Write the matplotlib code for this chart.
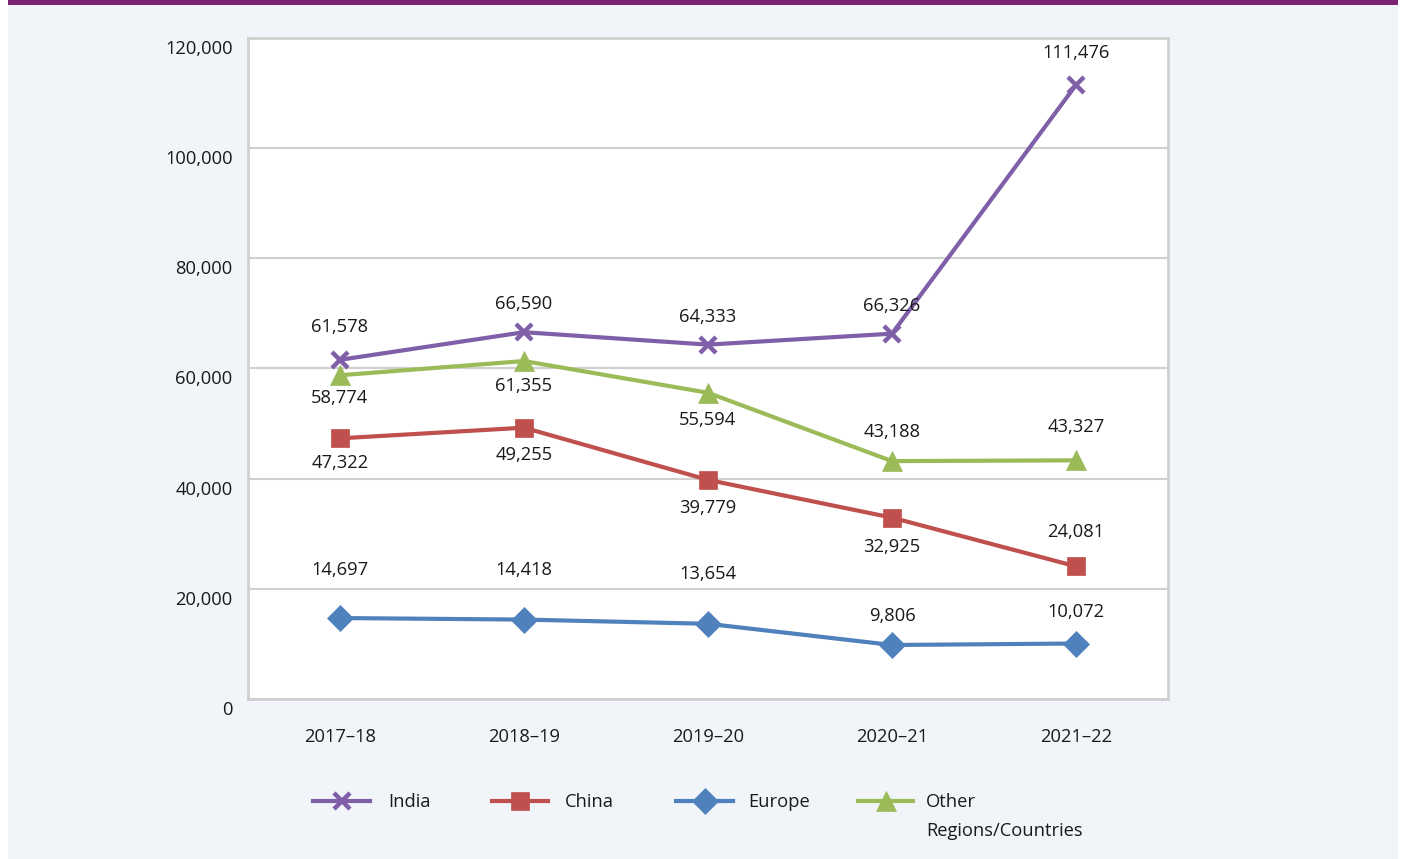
import matplotlib
matplotlib.use("Agg")
import matplotlib.pyplot as plt
from matplotlib.lines import Line2D
from matplotlib.patches import Rectangle
import matplotlib.transforms as mtransforms

plt.rcParams['font.family'] = ['Open Sans', 'DejaVu Sans']

years = ["2017–18", "2018–19", "2019–20", "2020–21", "2021–22"]
india = [61578, 66590, 64333, 66326, 111476]
china = [47322, 49255, 39779, 32925, 24081]
europe = [14697, 14418, 13654, 9806, 10072]
other = [58774, 61355, 55594, 43188, 43327]
yticks = [0, 20000, 40000, 60000, 80000, 100000, 120000]

# label vertical offsets in pixels (up positive)
off_india = [35, 30, 30, 30, 34]
off_china = [-23, -25, -26, -27, 36]
off_europe = [50, 52, 52, 31, 34]
off_other = [-21, -23, -25, 31, 35]

FS = 13.2
W, H = 1403, 859
fig = plt.figure(figsize=(W / 100, H / 100), dpi=100)
fig.patch.set_facecolor('white')
# panel background and top bar
fig.patches.append(Rectangle((8 / W, 0), (1398 - 8) / W, 1 - 5 / H, transform=fig.transFigure,
                             facecolor='#F1F4F9', edgecolor='none', zorder=-2))
fig.patches.append(Rectangle((8 / W, 1 - 5 / H), (1398 - 8) / W, 5 / H, transform=fig.transFigure,
                             facecolor='#7B2270', edgecolor='none', zorder=-2))

ax = fig.add_axes([248 / W, 1 - 699 / H, (1168 - 248) / W, (699 - 38) / H])
ax.set_zorder(2)
ax.set_facecolor('white')
ax.set_xlim(-0.5, 4.5)
ax.set_ylim(0, 120000)
ax.set_yticks(yticks)
ax.set_yticklabels([f"{v:,}" for v in yticks])
ax.set_xticks(range(len(years)))
ax.set_xticklabels(years)
ax.grid(axis='y', color='#D0D0D0', linewidth=1.5)
ax.set_axisbelow(True)
for s in ax.spines.values():
    s.set_color('#D0D0D0')
    s.set_linewidth(2)
ax.tick_params(axis='both', length=0, labelsize=FS, colors='#1a1a1a')
ax.tick_params(axis='y', pad=11)
ax.tick_params(axis='x', pad=21)
yoff = mtransforms.ScaledTranslation(0, -9 / 100, fig.dpi_scale_trans)
for lab in ax.get_yticklabels():
    lab.set_transform(lab.get_transform() + yoff)

series = [
    (india, '#7F5FA8', 'x', 12, off_india, 'India'),
    (china, '#C0504D', 's', 13, off_china, 'China'),
    (europe, '#4F81BD', 'D', 13, off_europe, 'Europe'),
    (other, '#9BBB59', '^', 14, off_other, 'Other\nRegions/Countries'),
]
x = list(range(len(years)))
for vals, col, mk, ms, offs, name in series:
    kw = dict(color=col, linewidth=3, marker=mk, markersize=ms, zorder=3)
    if mk == 'x':
        kw.update(markeredgewidth=3.2)
    else:
        kw.update(markeredgecolor=col, markerfacecolor=col, markeredgewidth=0.5)
    ax.plot(x, vals, **kw)
    for xi, v, o in zip(x, vals, offs):
        ax.annotate(f"{v:,}", (xi, v), xytext=(0, (o - 2) * 0.72), textcoords='offset points',
                    ha='center', va='center', fontsize=FS, color='#1a1a1a', zorder=4)

# legend (manual)
leg_y = 1 - 801 / H
entries = [(313, 370, 388), (492, 548, 565), (676, 733, 748), (858, 913, 926)]
for (x0, x1, xt), (vals, col, mk, ms, offs, name) in zip(entries, series):
    kw = dict(color=col, linewidth=3, marker=mk, markersize=ms, transform=fig.transFigure)
    if mk == 'x':
        kw.update(markeredgewidth=3.2)
    else:
        kw.update(markeredgecolor=col, markerfacecolor=col, markeredgewidth=0.5)
    fig.lines.append(Line2D([x0 / W, x1 / W], [leg_y, leg_y], markevery=[], **kw))
    fig.lines.append(Line2D([(x0 + x1) / 2 / W], [leg_y], linestyle='none', **kw))
    fig.text(xt / W, 1 - 793 / H, name, ha='left', va='top', fontsize=FS,
             color='#1a1a1a', linespacing=1.75)

fig.savefig('out.png', dpi=100, facecolor=fig.get_facecolor())
